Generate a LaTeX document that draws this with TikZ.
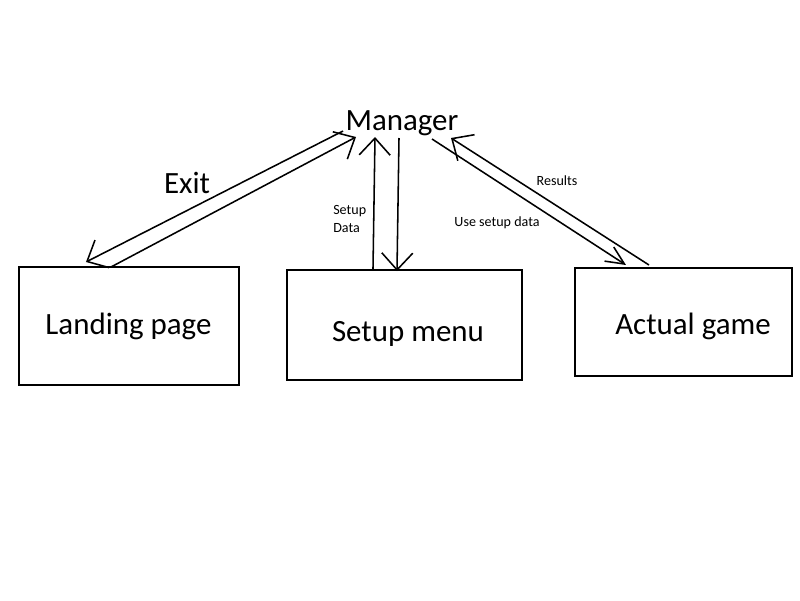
\documentclass[tikz,border=0pt]{standalone}
\usepackage{fontspec}
\setmainfont{Carlito}
\usetikzlibrary{positioning,arrows.meta}
\tikzset{
    block/.style = {
        draw,
        shape=rectangle,
        line width=1.4pt,
        inner sep=0pt
    },
    bigtext/.style = {
        font=\fontsize{22}{26}\selectfont,
        inner sep=0pt,
        anchor=base
    },
    smalltext/.style = {
        font=\fontsize{10}{12.8}\selectfont,
        inner sep=0pt
    },
    flow/.style = {
        draw,
        line width=1.1pt,
        -{Straight Barb[length=12pt,width=22pt]}
    },
    thinflow/.style = {
        draw,
        line width=1.1pt,
        -{Straight Barb[length=13pt,width=12pt]}
    },
}
\begin{document}
\begin{tikzpicture}[x=0.025cm, y=-0.025cm]
                \useasboundingbox[fill=white] (0,0) rectangle (800,600);

                % boxes
                \node[block, minimum width=5.5cm, minimum height=2.95cm] (landing) at (129,326) {};
                \node[block, minimum width=5.875cm, minimum height=2.75cm] (setup) at (404.5,325) {};
                \node[block, minimum width=5.425cm, minimum height=2.7cm] (game) at (683.5,322) {};

                \node[bigtext] (landingtext) at (128.5,334) {Landing page};
                \node[bigtext] (setuptext) at (408,341) {Setup menu};
                \node[bigtext] (gametext) at (693,334) {Actual game};
                \node[bigtext] (manager) at (402,130) {Manager};
                \node[bigtext] (exit) at (187,193) {Exit};

                \node[smalltext, align=left, anchor=west] (setupdata) at (333,218.5) {Setup\\Data};
                \node[smalltext, anchor=base] (usedata) at (497,226) {Use setup data};
                \node[smalltext, anchor=base] (results) at (557,185) {Results};

                % ends of the arrows
                \path (manager.base) ++(-59,1) coordinate (mgrA);
                \path (manager.base) ++(-46,7) coordinate (mgrB);
                \path (manager.base) ++(-27,7) coordinate (mgrC);
                \path (manager.base) ++(-3,8) coordinate (mgrD);
                \path (manager.base) ++(30,9) coordinate (mgrE);
                \path (manager.base) ++(49,8) coordinate (mgrF);
                \path (landing.north west) ++(68,-4) coordinate (lpIn);
                \path (landing.north west) ++(93,1) coordinate (lpOut);
                \path (setup.north west) ++(87,0) coordinate (smOut);
                \path (setup.north west) ++(111,2) coordinate (smIn);
                \path (game.north west) ++(52,-2) coordinate (agIn);
                \path (game.north west) ++(75,-2) coordinate (agOut);

                \path[flow] (mgrA) -- (lpIn);
                \path[flow] (lpOut) -- (mgrB);
                \path[flow] (smOut) -- (mgrC);
                \path[flow] (mgrD) -- (smIn);
                \path[thinflow] (mgrE) -- (agIn);
                \path[flow] (agOut) -- (mgrF);
\end{tikzpicture}
\end{document}
